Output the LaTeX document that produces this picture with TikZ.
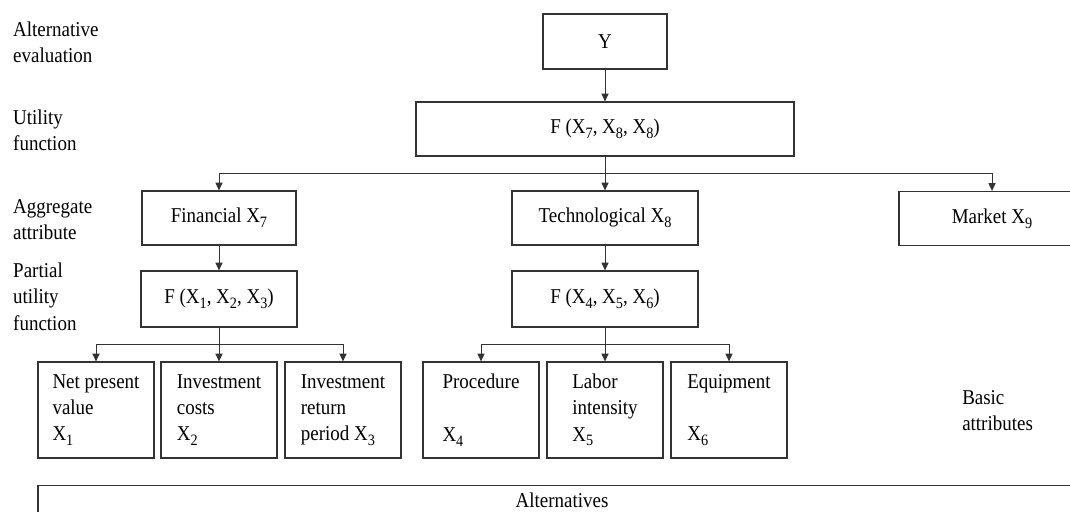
\documentclass[tikz,border=0pt]{standalone}
\usepackage{fontspec}
\setmainfont{Liberation Serif}[FakeStretch=0.9]
\usepackage{tikz}
\usetikzlibrary{calc,arrows.meta}
\newcommand\Xsub[1]{X\raisebox{-4pt}{\fontsize{13.5}{13.5}\selectfont #1}}
\tikzset{
	box/.style={draw=black!80, line width=1.1pt, inner sep=0pt, minimum height=16.2mm},
	leaf/.style={box, align=left, minimum width=34.8mm, minimum height=28.8mm},
	lvl/.style={anchor=west, align=left, inner sep=0pt},
	arr/.style={draw=black!80, line width=0.7pt, -{Triangle[length=6.5pt,width=6pt]}},
	bus/.style={draw=black!80, line width=0.7pt}
}

\begin{document}
\begin{tikzpicture}[x=0.3mm,y=-0.3mm,font=\fontsize{18}{22.5}\selectfont]

\clip (0,0) rectangle (1070,511);

% level names
\node[lvl] (levA) at (13,42.5) {Alternative\\evaluation};
\node[lvl] (levU) at (13,130) {Utility\\function};
\node[lvl] (levG) at (13,219.5) {Aggregate\\attribute};
\node[lvl] (levP) at (13,296.5) {Partial\\utility\\function};
\node[lvl] (levB) at (962,410.5) {Basic\\attributes};

\node[box, minimum width=37.2mm, minimum height=16.5mm] (y) at (605,41.5) {Y};
\node[box, minimum width=113.4mm] (fy) at (605,129) {F (\Xsub{7}, \Xsub{8}, \Xsub{8})};

\node[box, minimum width=46.2mm] (fin) at (219,218) {Financial \Xsub{7}};
\node[box, minimum width=55.8mm] (tech) at (605,218) {Technological \Xsub{8}};
\node[box, minimum width=55.8mm] (mkt) at (992,218.5) {Market \Xsub{9}};

\node[box, minimum width=46.8mm, minimum height=16.8mm] (ffin) at (219,299) {F (\Xsub{1}, \Xsub{2}, \Xsub{3})};
\node[box, minimum width=55.8mm, minimum height=16.8mm] (ftech) at (605,299) {F (\Xsub{4}, \Xsub{5}, \Xsub{6})};

\node[leaf] (a1) at (96,410) {Net present\\value\\\Xsub{1}};
\node[leaf] (a2) at (219,410) {Investment\\costs\\\Xsub{2}};
\node[leaf] (a3) at (343,410) {Investment\\return\\period \Xsub{3}};
\node[leaf] (a4) at (481,410) {Procedure\\~\\\Xsub{4}};
\node[leaf] (a5) at (605,410) {Labor\\intensity\\\Xsub{5}};
\node[leaf] (a6) at (729,410) {Equipment\\~\\\Xsub{6}};

\node[box, minimum width=314.4mm, minimum height=8.7mm] (alt) at (562,500) {Alternatives};

% connectors
\draw[arr] (y) -- (fy);
\draw[arr] (fy) -- (tech);
\coordinate (busY) at ($(fy.south)!0.5!(tech.north)$);
\foreach \n in {fin,mkt}
\draw[arr] (busY) -| (\n.north);

\draw[arr] (fin) -- (ffin);
\draw[arr] (tech) -- (ftech);

\draw[arr] (ffin) -- (a2);
\coordinate (busF) at ($(ffin.south)!0.5!(a2.north)$);
\foreach \n in {a1,a3}
\draw[arr] (busF) -| (\n.north);

\draw[arr] (ftech) -- (a5);
\coordinate (busT) at ($(ftech.south)!0.5!(a5.north)$);
\foreach \n in {a4,a6}
\draw[arr] (busT) -| (\n.north);

\end{tikzpicture}
\end{document}
